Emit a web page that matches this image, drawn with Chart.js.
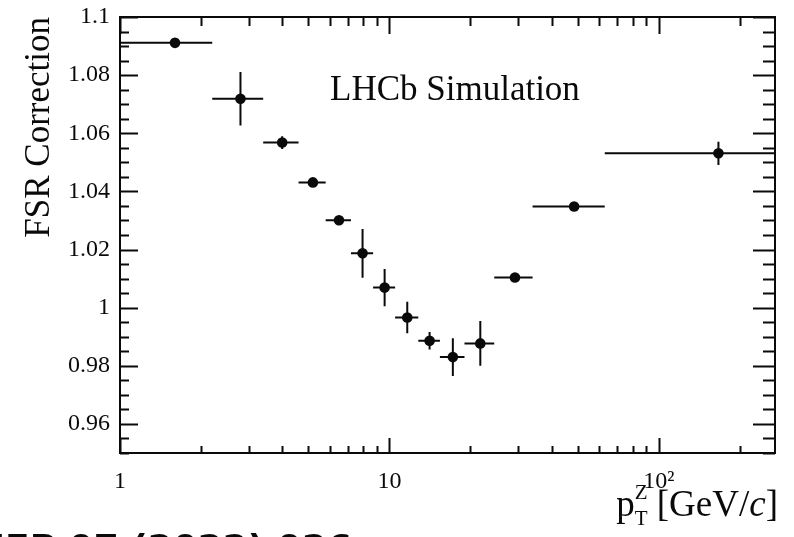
<!DOCTYPE html>
<html>
<head>
<meta charset="utf-8">
<script src="https://cdn.jsdelivr.net/npm/chart.js@4.4.1/dist/chart.umd.min.js"></script>
<style>
  html, body { margin: 0; padding: 0; background: #fff; }
  #wrap { width: 794px; height: 537px; position: relative; }
</style>
</head>
<body>
<div id="wrap"><canvas id="fsrChart" width="794" height="537"></canvas></div>
<script>
// pT(Z) bins in GeV/c and the FSR correction in each bin
const binLow    = [1, 2.2, 3.4, 4.6, 5.8, 7.2, 8.7, 10.5, 12.8, 15.4, 19.0, 24.5, 34.0, 63.0];
const binHigh   = [2.2, 3.4, 4.6, 5.8, 7.2, 8.7, 10.5, 12.8, 15.4, 19.0, 24.5, 34.0, 63.0, 270];
const binCenter = [1.6, 2.8, 4.0, 5.2, 6.5, 7.95, 9.6, 11.65, 14.1, 17.2, 21.75, 29.25, 48.5, 166.5];
const fsrCorr   = [1.0911, 1.0719, 1.0568, 1.0431, 1.0301, 1.0187, 1.0069, 0.9966, 0.9886, 0.9830, 0.9877, 1.0104, 1.0348, 1.0531];
const fsrErr    = [0.0008, 0.0092, 0.0022, 0.0010, 0.0010, 0.0084, 0.0064, 0.0054, 0.0030, 0.0065, 0.0077, 0.0008, 0.0008, 0.0040];

// axis ticks
const xMajorTicks = [1, 10, 100];
const xTickLabels = ['1', '10', '10\u00B2'];
const xMinorTicks = [2, 3, 4, 5, 6, 7, 8, 9, 20, 30, 40, 50, 60, 70, 80, 90, 200];
const yTickValues = [0.96, 0.98, 1, 1.02, 1.04, 1.06, 1.08, 1.1];
const yTickLabels = ['0.96', '0.98', '1', '1.02', '1.04', '1.06', '1.08', '1.1'];

const INK = '#0a0a0a';
const SERIF = '"Liberation Serif", "Times New Roman", serif';

// error bars: horizontal = bin width, vertical = stat. error
const errorBars = {
  id: 'errorBars',
  beforeDatasetsDraw(chart) {
    const { ctx, chartArea, scales: { x, y } } = chart;
    ctx.save();
    ctx.beginPath();
    ctx.rect(chartArea.left, chartArea.top, chartArea.right - chartArea.left, chartArea.bottom - chartArea.top);
    ctx.clip();
    ctx.strokeStyle = INK;
    ctx.lineWidth = 2;
    ctx.beginPath();
    binCenter.forEach((xc, i) => {
      const py = y.getPixelForValue(fsrCorr[i]);
      const px = x.getPixelForValue(xc);
      ctx.moveTo(x.getPixelForValue(binLow[i]), py);
      ctx.lineTo(x.getPixelForValue(binHigh[i]), py);
      ctx.moveTo(px, y.getPixelForValue(fsrCorr[i] - fsrErr[i]));
      ctx.lineTo(px, y.getPixelForValue(fsrCorr[i] + fsrErr[i]));
    });
    ctx.stroke();
    ctx.restore();
  }
};

// ROOT-style frame with inward ticks on all four sides, plus the x title
const rootFrame = {
  id: 'rootFrame',
  afterDraw(chart) {
    const { ctx, chartArea: a, scales: { x, y } } = chart;
    ctx.save();
    ctx.strokeStyle = INK;
    ctx.lineWidth = 2;
    ctx.strokeRect(a.left, a.top, a.right - a.left, a.bottom - a.top);

    ctx.beginPath();
    const xTick = (v, lenB, lenT) => {
      const px = Math.round(x.getPixelForValue(v)) + 0.5;
      ctx.moveTo(px, a.bottom); ctx.lineTo(px, a.bottom - lenB);
      ctx.moveTo(px, a.top); ctx.lineTo(px, a.top + lenT);
    };
    xMajorTicks.forEach(v => xTick(v, 15, 17));
    xMinorTicks.forEach(v => xTick(v, 7, 9));

    const yTick = (v, lenL, lenR) => {
      const py = Math.round(y.getPixelForValue(v)) + 0.5;
      ctx.moveTo(a.left, py); ctx.lineTo(a.left + lenL, py);
      ctx.moveTo(a.right, py); ctx.lineTo(a.right - lenR, py);
    };
    for (let k = 0; k <= 30; k++) {
      const v = 0.95 + k * 0.005;
      const major = yTickValues.some(t => Math.abs(t - v) < 1e-6);
      yTick(v, major ? 18 : 9, major ? 22 : 12);
    }
    ctx.stroke();

    // x axis title: p_T^Z [GeV/c]
    const main = '37px ' + SERIF;
    const small = '21px ' + SERIF;
    const base = 516;
    ctx.fillStyle = INK;
    ctx.textBaseline = 'alphabetic';
    ctx.textAlign = 'left';
    ctx.font = main;
    const wp = ctx.measureText('p').width;
    const wRest = ctx.measureText(' [GeV/').width;
    const wEnd = ctx.measureText(']').width;
    ctx.font = 'italic 37px ' + SERIF;
    const wc = ctx.measureText('c').width;
    ctx.font = small;
    const wZ = Math.max(ctx.measureText('Z').width, ctx.measureText('T').width);
    let cx = 778 - (wp + wZ + wRest + wc + wEnd);
    ctx.font = main;
    ctx.fillText('p', cx, base); cx += wp;
    ctx.font = small;
    ctx.fillText('Z', cx, base - 17);
    ctx.fillText('T', cx, base + 9);
    cx += wZ;
    ctx.font = main;
    ctx.fillText(' [GeV/', cx, base); cx += wRest;
    ctx.font = 'italic 37px ' + SERIF;
    ctx.fillText('c', cx, base); cx += wc;
    ctx.font = main;
    ctx.fillText(']', cx, base);

    // experiment label
    ctx.font = '35px ' + SERIF;
    ctx.fillText('LHCb Simulation', 330, 100);

    // journal reference along the bottom edge
    ctx.font = 'bold 36px "DejaVu Sans", sans-serif';
    ctx.textAlign = 'right';
    ctx.fillText('JHEP 07 (2022) 026', 352, 560);
    ctx.restore();
  }
};

const ctx = document.getElementById('fsrChart').getContext('2d');
new Chart(ctx, {
  type: 'scatter',
  data: {
    datasets: [{
      label: 'FSR Correction',
      data: binCenter.map((xc, i) => ({ x: xc, y: fsrCorr[i] })),
      pointRadius: 5.3,
      pointBackgroundColor: INK,
      pointBorderWidth: 0,
      showLine: false
    }]
  },
  options: {
    responsive: false,
    animation: false,
    layout: { padding: { top: 17, right: 19, left: 0, bottom: 0 } },
    plugins: {
      legend: { display: false },
      tooltip: { enabled: false }
    },
    scales: {
      x: {
        type: 'logarithmic',
        min: 1,
        max: 270,
        grid: { display: false, drawTicks: false },
        border: { display: false },
        afterBuildTicks: s => { s.ticks = xMajorTicks.map(v => ({ value: v })); },
        afterFit: s => { s.height = 84; s.paddingLeft = 0; s.paddingRight = 0; },
        ticks: {
          autoSkip: false,
          maxRotation: 0,
          padding: 14,
          color: INK,
          font: { family: SERIF, size: 24 },
          callback: (v, i) => xTickLabels[i]
        }
      },
      y: {
        min: 0.95,
        max: 1.1,
        grid: { display: false, drawTicks: false },
        border: { display: false },
        afterBuildTicks: s => { s.ticks = yTickValues.map(v => ({ value: v })); },
        afterFit: s => { s.width = 120; s.paddingTop = 0; s.paddingBottom = 0; },
        ticks: {
          padding: 10,
          color: INK,
          font: { family: SERIF, size: 24 },
          callback: (v, i) => yTickLabels[i]
        },
        title: {
          display: true,
          text: 'FSR Correction',
          align: 'end',
          color: INK,
          font: { family: SERIF, size: 35 },
          padding: { top: 19, bottom: 0 }
        }
      }
    }
  },
  plugins: [errorBars, rootFrame]
});
</script>
</body>
</html>
